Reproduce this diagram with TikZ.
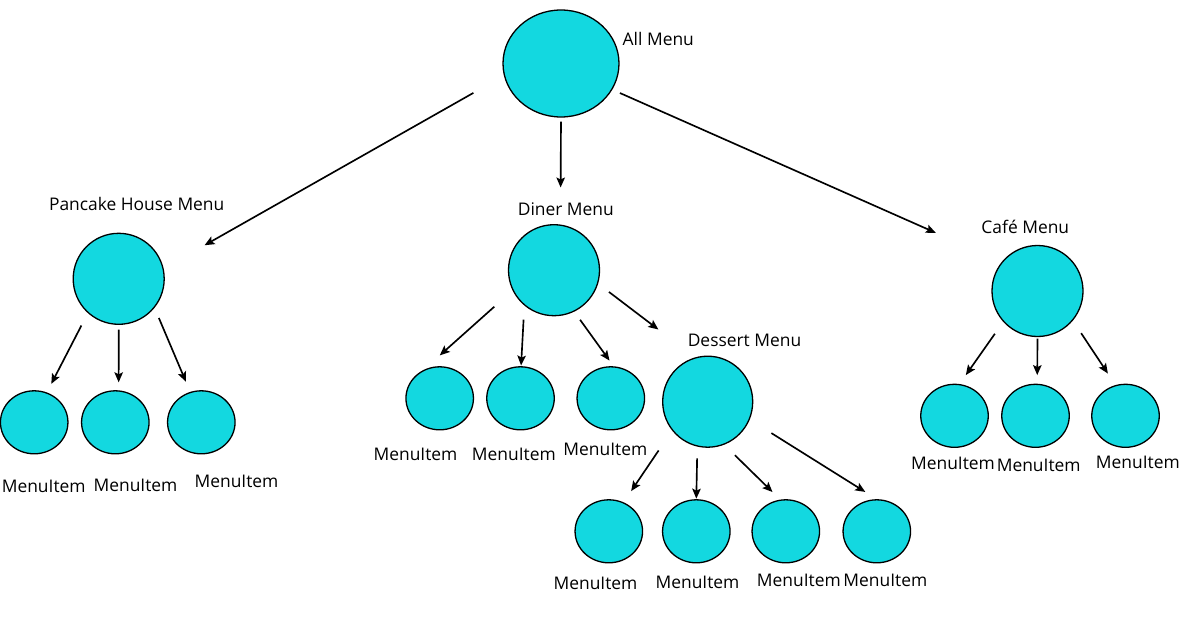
\documentclass[tikz,border=0pt]{standalone}
\usepackage{fontspec}
\setmainfont{Open Sans}
\usepackage{xcolor}
\usepackage{tikz}
\usetikzlibrary{shapes.geometric,arrows.meta}
\definecolor{menucyan}{RGB}{19,216,224}

\begin{document}
\begin{tikzpicture}[x=1pt,y=-1pt,
    menu/.style={ellipse,draw=black,line width=1.3pt,fill=menucyan,inner sep=0pt,minimum width=91pt,minimum height=91pt},
    item/.style={menu,minimum width=67.5pt,minimum height=63pt},
    lbl/.style={anchor=base,inner sep=0pt,font=\fontsize{17.4}{20}\selectfont},
    arr/.style={-{Stealth[length=10pt,width=8.5pt,inset=2pt]},line width=1.65pt}]
    \useasboundingbox (0,0) rectangle (1193,621);

    \node[menu,minimum width=116pt,minimum height=107pt] (all) at (561,63.5) {};
    \node[menu] (pancake) at (118.7,278.8) {};
    \node[menu] (diner) at (554,270.2) {};
    \node[menu,minimum width=90pt] (dessert) at (707.7,401.7) {};
    \node[menu] (cafe) at (1037.5,291) {};

    \node[item] (p1) at (34.2,422.3) {};
    \node[item] (p2) at (115.3,422.3) {};
    \node[item] (p3) at (201.3,422.3) {};
    \node[item] (d1) at (439.7,398.3) {};
    \node[item] (d2) at (520.5,398.3) {};
    \node[item] (d3) at (610.8,398.3) {};
    \node[item] (s1) at (608.8,531.3) {};
    \node[item] (s2) at (696.3,531.3) {};
    \node[item] (s3) at (785.8,531.3) {};
    \node[item] (s4) at (876.8,531.3) {};
    \node[item] (c1) at (954.5,415.8) {};
    \node[item] (c2) at (1035.5,415.8) {};
    \node[item] (c3) at (1125.5,415.8) {};

    \node[lbl] (allL) at (658.3,45.7) {All Menu};
    \node[lbl] (pancakeL) at (136.7,210) {Pancake House Menu};
    \node[lbl] (dinerL) at (565.8,215.3) {Diner Menu};
    \node[lbl] (dessertL) at (744.5,346.7) {Dessert Menu};
    \node[lbl] (cafeL) at (1025.3,233.3) {Café Menu};

    \node[lbl] (p1L) at (43.7,492.7) {MenuItem};
    \node[lbl] (p2L) at (135.5,491.7) {MenuItem};
    \node[lbl] (p3L) at (236.5,487.7) {MenuItem};
    \node[lbl] (d1L) at (415.5,460.7) {MenuItem};
    \node[lbl] (d2L) at (513.8,460) {MenuItem};
    \node[lbl] (d3L) at (605.3,455) {MenuItem};
    \node[lbl] (s1L) at (595.5,589.3) {MenuItem};
    \node[lbl] (s2L) at (697.5,588.3) {MenuItem};
    \node[lbl] (s3L) at (798.8,586.7) {MenuItem};
    \node[lbl] (s4L) at (885.3,586.7) {MenuItem};
    \node[lbl] (c1L) at (953,469.3) {MenuItem};
    \node[lbl] (c2L) at (1038.7,471.7) {MenuItem};
    \node[lbl] (c3L) at (1137.8,468.3) {MenuItem};

    \draw[arr,shorten <=35pt,shorten >=47pt] (all.192.3) -- (pancake.13.6);
    \draw[arr,shorten <=4pt,shorten >=37pt] (all.270) -- (diner.82.4);
    \draw[arr,shorten <=8.3pt,shorten >=72pt] (all.333) -- (cafe.141.4);

    \draw[arr,shorten <=14pt,shorten >=9.6pt] (pancake.228.2) -- (p1.67.2);
    \draw[arr,shorten <=4.7pt,shorten >=8pt] (pancake.270) -- (p2.84);
    \draw[arr,shorten <=11pt,shorten >=11pt] (pancake.321) -- (p3.110.7);

    \draw[arr,shorten <=24.4pt,shorten >=22pt] (diner.206.5) -- (d1.120.4);
    \draw[arr,shorten <=14pt,shorten >=0.6pt] (diner.230.7) -- (d2.89);
    \draw[arr,shorten <=10pt,shorten >=7pt] (diner.296.3) -- (d3.85);
    \draw[arr,shorten <=13.6pt,shorten >=46pt] (diner.343) -- (dessert.106.4);

    \draw[arr,shorten <=24pt,shorten >=13.5pt] (dessert.219.3) -- (s1.63.4);
    \draw[arr,shorten <=11.7pt,shorten >=0.5pt] (dessert.257.2) -- (s2.north);
    \draw[arr,shorten <=15pt,shorten >=10.8pt] (dessert.291.8) -- (s3.100);
    \draw[arr,shorten <=25.5pt,shorten >=13.6pt] (dessert.337.5) -- (s4.90);

    \draw[arr,shorten <=14.5pt,shorten >=10.9pt] (cafe.222.6) -- (c1.81);
    \draw[arr,shorten <=1.5pt,shorten >=8.6pt] (cafe.270) -- (c2.87);
    \draw[arr,shorten <=15pt,shorten >=13.8pt] (cafe.320) -- (c3.108.3);
  \end{tikzpicture}
\end{document}
